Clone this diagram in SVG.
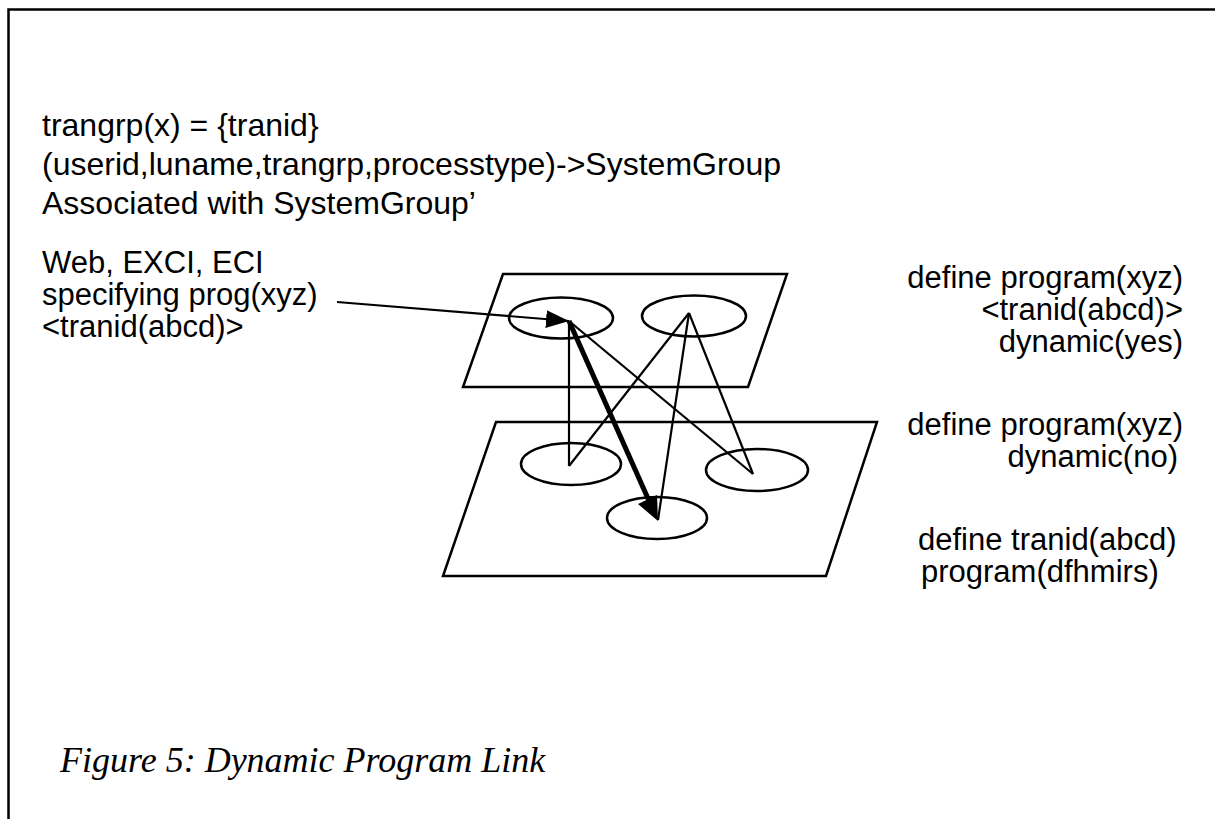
<svg xmlns="http://www.w3.org/2000/svg" width="1215" height="819" viewBox="0 0 1215 819">
  <defs>
    <style>
      .txt { font-family: "Liberation Sans", Arial, sans-serif; font-size: 31px; fill: #000; }
      .big { font-size: 32px; }
      .cap { font-family: "Liberation Serif", "Times New Roman", serif; font-size: 36px; font-style: italic; fill: #000; }
      .plane { fill: none; stroke: #000; stroke-width: 2.5; stroke-linejoin: miter; }
      .node { fill: none; stroke: #000; stroke-width: 2.5; }
      .link { fill: none; stroke: #000; stroke-width: 2.2; }
      .bold { fill: none; stroke: #000; stroke-width: 5; }
    </style>
    <marker id="head" viewBox="0 0 23 18" refX="23" refY="9" markerWidth="23" markerHeight="18" markerUnits="userSpaceOnUse" orient="auto">
      <path d="M0,0 L23,9 L0,18 Z" fill="#000"/>
    </marker>
  </defs>

  <rect width="1215" height="819" fill="#fff"/>

  <!-- frame: left and top edges -->
  <path d="M8.5,819 V9.5 H1215" fill="none" stroke="#000" stroke-width="2.5"/>

  <!-- header text -->
  <g id="header">
    <text class="txt big" x="42" y="136">trangrp(x) = {tranid}</text>
    <text class="txt big" x="42" y="175">(userid,luname,trangrp,processtype)-&gt;SystemGroup</text>
    <text class="txt big" x="42" y="214">Associated with SystemGroup’</text>
  </g>

  <g id="client">
    <text class="txt" x="42" y="273">Web, EXCI, ECI</text>
    <text class="txt" x="42" y="305">specifying prog(xyz)</text>
    <text class="txt" x="42" y="337">&lt;tranid(abcd)&gt;</text>
  </g>

  <!-- upper region plane -->
  <g id="upper-plane">
    <polygon class="plane" points="503,274 787,274 748,387 463,387"/>
  </g>
  <!-- lower region plane -->
  <g id="lower-plane">
    <polygon class="plane" points="496,422 877,422 826,576 443,576"/>
  </g>

  <g id="upper-a"><ellipse class="node" cx="561" cy="318" rx="52" ry="20.5"/></g>
  <g id="upper-b"><ellipse class="node" cx="694" cy="316" rx="52" ry="20.5"/></g>
  <g id="lower-a"><ellipse class="node" cx="571" cy="464" rx="50" ry="21"/></g>
  <g id="lower-b"><ellipse class="node" cx="657" cy="518" rx="50" ry="21"/></g>
  <g id="lower-c"><ellipse class="node" cx="757" cy="470" rx="51" ry="21"/></g>

  <g id="connectors">
    <line class="link" x1="569" y1="321" x2="569" y2="466"/>
    <line class="link" x1="569" y1="466" x2="689" y2="313"/>
    <line class="link" x1="569" y1="321" x2="753" y2="474"/>
    <line class="link" x1="689" y1="313" x2="753" y2="474"/>
    <line class="link" x1="689" y1="313" x2="658" y2="520"/>
    <line class="link" x1="337" y1="302" x2="569" y2="321" marker-end="url(#head)"/>
    <line class="bold" x1="569" y1="321" x2="650" y2="503"/>
    <polygon points="658,521 638,504 657,495" fill="#000"/>
  </g>

  <g id="defs-upper">
    <text class="txt" x="1183" y="288" text-anchor="end">define program(xyz)</text>
    <text class="txt" x="1183" y="320" text-anchor="end">&lt;tranid(abcd)&gt;</text>
    <text class="txt" x="1183" y="352" text-anchor="end">dynamic(yes)</text>
  </g>
  <g id="defs-lower">
    <text class="txt" x="1183" y="435" text-anchor="end">define program(xyz)</text>
    <text class="txt" x="1178" y="467" text-anchor="end">dynamic(no)</text>
  </g>
  <g id="defs-tran">
    <text class="txt" x="918" y="550">define tranid(abcd)</text>
    <text class="txt" x="921" y="582">program(dfhmirs)</text>
  </g>

  <text class="cap" x="60" y="772">Figure 5: Dynamic Program Link</text>
</svg>
